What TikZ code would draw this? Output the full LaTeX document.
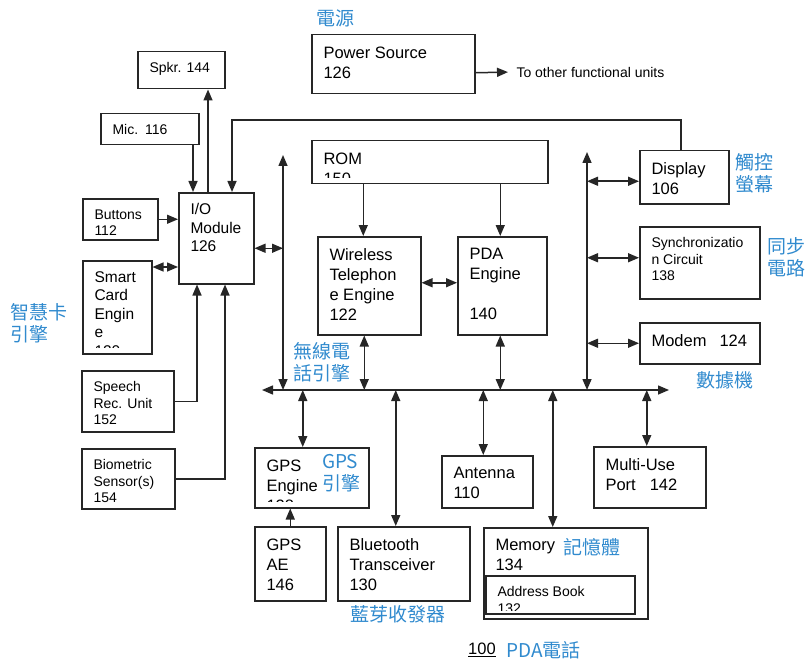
\documentclass[tikz,border=0pt]{standalone}
\usepackage{fontspec}
\setmainfont{Liberation Sans}
\newfontfamily\cjk{Noto Sans CJK TC}
\usetikzlibrary{arrows.meta}
\definecolor{zhblue}{RGB}{48,138,206}

\tikzset{
  blk/.style={draw=black!85, line width=1.5pt, inner sep=0pt, anchor=north west},
  txt/.style={anchor=north west, align=left, minimum width=0pt, minimum height=0pt, inner xsep=11pt, inner ysep=11pt, font=\fontsize{16.5}{20}\selectfont},
  mid/.style={inner ysep=10pt, font=\fontsize{15.5}{18.5}\selectfont},
  sml/.style={inner ysep=10pt, font=\fontsize{14}{16.5}\selectfont},
  % text clipped a little above the bottom edge of its box
  say/.style={path picture={\clip (path picture bounding box.north west) rectangle ([yshift=6pt]path picture bounding box.south east);
      \node[txt] at (path picture bounding box.north west) {#1};}},
  saymid/.style={path picture={\clip (path picture bounding box.north west) rectangle ([yshift=6pt]path picture bounding box.south east);
      \node[txt,mid] at (path picture bounding box.north west) {#1};}},
  saysml/.style={path picture={\clip (path picture bounding box.north west) rectangle ([yshift=3pt]path picture bounding box.south east);
      \node[txt,sml] at (path picture bounding box.north west) {#1};}},
  zh/.style={text=zhblue, align=left, font=\cjk\fontsize{19}{22}\selectfont, inner sep=0pt},
  wire/.style={line width=1.5pt, draw=black!85},
  arr/.style={wire, -{Triangle[length=11pt,width=9pt]}},
  dbl/.style={wire, {Triangle[length=11pt,width=9pt]}-{Triangle[length=11pt,width=9pt]}},
}

\begin{document}
\begin{tikzpicture}[x=1pt, y=-1pt]
    \useasboundingbox (0,0) rectangle (805,663);

    % power
    \node[blk, minimum width=163pt, minimum height=59pt, say={Power Source\\126}] (pwr) at (311,34) {};
    \node[anchor=west, font=\fontsize{14}{16}\selectfont] (other) at (513,72) {To other functional units};
    \draw[arr, shorten >=5pt] ([yshift=-8.5pt]pwr.east) -- (other.west);
    \node[zh] (zh_pwr) at (335,18) {電源};

    % left column
    \node[blk, minimum width=87pt, minimum height=37pt, saysml={Spkr. 144}] (spk) at (137,51) {};
    \node[blk, minimum width=98pt, minimum height=31pt, saysml={Mic.\hspace{7pt}116}] (mic) at (100,113) {};
    \node[blk, minimum width=75pt, minimum height=41pt, saysml={Buttons\\112}] (btn) at (82,198) {};
    \node[blk, minimum width=75pt, minimum height=91pt, saymid={I/O\\Module\\126}] (io) at (178,192) {};
    \node[blk, minimum width=69pt, minimum height=93pt, saymid={Smart\\Card\\Engin\\e\\120}] (sce) at (82,260) {};
    \node[blk, minimum width=92pt, minimum height=61pt, saysml={Speech\\Rec. Unit\\152}] (spch) at (81,370) {};
    \node[blk, minimum width=93pt, minimum height=60pt, saysml={Biometric\\Sensor(s)\\154}] (bio) at (81,448) {};
    \node[zh, anchor=west] (zh_sce) at (10,323) {智慧卡\\引擎};

    \draw[arr] ([xshift=30pt]io.north west) -- ([xshift=30pt]io.north west |- spk.south);
    \draw[arr] ([xshift=15pt]io.north west |- mic.south) -- ([xshift=15pt]io.north west);
    \draw[arr] (btn.east) -- (btn.east -| io.west);
    \draw[dbl] ([yshift=-7pt]sce.north east) -- ([yshift=-7pt]sce.north east -| io.west);
    \draw[arr] (spch.east) -| ([xshift=19pt]io.south west);
    \draw[arr] (bio.east) -| ([xshift=47pt]io.south west);

    % engines
    \node[blk, minimum width=236pt, minimum height=43pt, say={ROM\\150}] (rom) at (311,140) {};
    \node[blk, minimum width=103pt, minimum height=98pt, say={Wireless\\Telephon\\e Engine\\122}] (wte) at (317,236) {};
    \node[blk, minimum width=89pt, minimum height=98pt, say={PDA\\Engine\\[20pt]140}] (pda) at (457,236) {};
    \node[zh] (zh_wte) at (322,362) {無線電\\話引擎};
    \draw[arr] ([xshift=-6pt]wte.north |- rom.south) -- ([xshift=-6pt]wte.north);
    \draw[arr] ([xshift=-2pt]pda.north |- rom.south) -- ([xshift=-2pt]pda.north);
    \draw[dbl] ([yshift=3pt]wte.east) -- ([yshift=3pt]pda.west);

    % right column
    \node[blk, minimum width=89pt, minimum height=53pt, say={Display\\106}] (disp) at (639,150) {};
    \node[blk, minimum width=120pt, minimum height=72pt, saysml={Synchronizatio\\n Circuit\\138}] (sync) at (639,226) {};
    \node[blk, minimum width=120pt, minimum height=41pt, say={Modem\hspace{13pt}124}] (modem) at (639,322) {};
    \node[zh] (zh_disp) at (754,173) {觸控\\螢幕};
    \node[zh, anchor=west] (zh_sync) at (767,257) {同步\\電路};
    \node[zh] (zh_modem) at (725,380) {數據機};
    \draw[arr] ([xshift=42pt]disp.north west) -- ++(0,-30) -| ([xshift=54pt]io.north west);

    % bus
    \coordinate (busL) at (262,390);
    \coordinate (busR) at (669,390);
    \coordinate (vL) at (283,155);
    \coordinate (vR) at (587,152);
    \draw[dbl] (busL) -- (busR);
    \draw[dbl] (vL) -- (vL |- busL);
    \draw[dbl] (vR) -- (vR |- busL);
    \draw[dbl] ([yshift=-10pt]io.east) -- ([yshift=-10pt]io.east -| vL);
    \draw[dbl] ([yshift=-4pt]disp.west -| vR) -- ([yshift=-4pt]disp.west);
    \draw[dbl] ([yshift=5pt]sync.west -| vR) -- ([yshift=5pt]sync.west);
    \draw[dbl] (modem.west -| vR) -- (modem.west);
    \draw[dbl] ([xshift=-5pt]wte.south) -- ([xshift=-5pt]wte.south |- busL);
    \draw[dbl] ([xshift=-2pt]pda.south) -- ([xshift=-2pt]pda.south |- busL);

    % bottom row
    \node[blk, minimum width=114pt, minimum height=60pt, say={GPS\\Engine\\128}] (gps) at (254,447) {};
    \node[blk, minimum width=71pt, minimum height=74pt, say={GPS\\AE\\146}] (gae) at (254,526) {};
    \node[blk, minimum width=132pt, minimum height=74pt, say={Bluetooth\\Transceiver\\130}] (bt) at (337,526) {};
    \node[blk, minimum width=91pt, minimum height=52pt, say={Antenna\\110}] (ant) at (441,455) {};
    \node[blk, minimum width=164pt, minimum height=91pt, say={Memory\\134}] (mem) at (483,527) {};
    \node[blk, minimum width=149pt, minimum height=38pt, saysml={Address Book\\132}] (adr) at (485,575) {};
    \node[blk, minimum width=112pt, minimum height=61pt, say={Multi-Use\\Port\hspace{14pt}142}] (mup) at (593,446) {};
    \node[zh] (zh_gps) at (341,473) {GPS\\引擎};
    \node[zh] (zh_bt) at (398,614) {藍芽收發器};
    \node[zh] (zh_mem) at (592,547) {記憶體};

    \draw[dbl] ([xshift=-9pt]gps.north |- busL) -- ([xshift=-9pt]gps.north);
    \draw[dbl] ([xshift=-8pt]bt.north |- busL) -- ([xshift=-8pt]bt.north);
    \draw[dbl] ([xshift=-4pt]ant.north |- busL) -- ([xshift=-4pt]ant.north);
    \draw[dbl] ([xshift=-13pt]mem.north |- busL) -- ([xshift=-13pt]mem.north);
    \draw[dbl] ([xshift=-3pt]mup.north |- busL) -- ([xshift=-3pt]mup.north);
    \draw[arr] (gae.north) -- (gae.north |- gps.south);

    \node[font=\fontsize{16.5}{20}\selectfont, inner sep=1pt] (fig) at (482,650) {\underline{100}};
    \node[zh, anchor=west] (zh_fig) at (506,650) {PDA電話};
\end{tikzpicture}
\end{document}
